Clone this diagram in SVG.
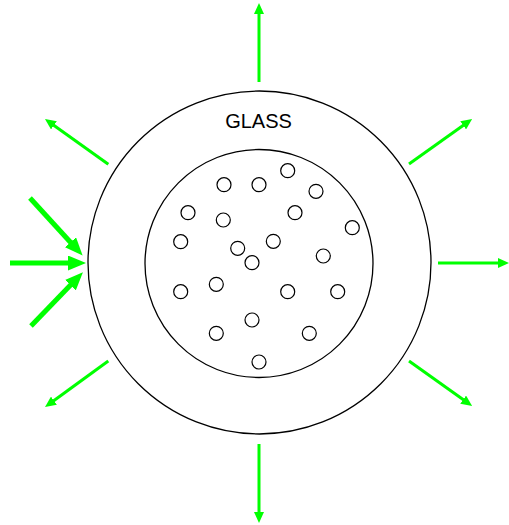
<svg xmlns="http://www.w3.org/2000/svg" width="509" height="525" viewBox="0 0 509 525">
<style>
.ring{fill:none;stroke:#000;stroke-width:1.3}
.bub{fill:#fff;stroke:#000;stroke-width:1.2}
.out{stroke:#00ff00;stroke-width:3;fill:none;marker-end:url(#hs)}
.in{stroke:#00ff00;stroke-width:5;fill:none;marker-end:url(#hl)}
.lbl{font-family:"Liberation Sans",Arial,sans-serif;font-size:20px;fill:#000;text-anchor:middle}
</style>
<defs>
<marker id="hs" markerUnits="userSpaceOnUse" viewBox="0 0 11 10" refX="2" refY="5" markerWidth="11" markerHeight="10" orient="auto">
<path d="M0,0 L11,5 L0,10 z" fill="#00ff00"/>
</marker>
<marker id="hl" markerUnits="userSpaceOnUse" viewBox="0 0 18 15" refX="3" refY="7.5" markerWidth="18" markerHeight="15" orient="auto">
<path d="M0,0 L18,7.5 L0,15 z" fill="#00ff00"/>
</marker>
</defs>
<rect width="509" height="525" fill="#fff"/>
<g id="glass">
<circle class="ring" cx="259.5" cy="262.5" r="171.5"/>
<text class="lbl" x="258.5" y="128">GLASS</text>
</g>
<g id="core">
<circle class="ring" cx="259" cy="263.5" r="114"/>
</g>
<g id="bubbles">
<circle class="bub" cx="287.7" cy="170.7" r="7"/>
<circle class="bub" cx="224" cy="184.7" r="7"/>
<circle class="bub" cx="259" cy="184.7" r="7"/>
<circle class="bub" cx="316" cy="191.3" r="7"/>
<circle class="bub" cx="188" cy="212.7" r="7"/>
<circle class="bub" cx="223.3" cy="220" r="7"/>
<circle class="bub" cx="295" cy="212.7" r="7"/>
<circle class="bub" cx="352.3" cy="227.7" r="7"/>
<circle class="bub" cx="180.7" cy="241.7" r="7"/>
<circle class="bub" cx="237.7" cy="248.3" r="7"/>
<circle class="bub" cx="273.3" cy="241.3" r="7"/>
<circle class="bub" cx="252" cy="262.7" r="7"/>
<circle class="bub" cx="323.3" cy="256" r="7"/>
<circle class="bub" cx="216.3" cy="284.3" r="7"/>
<circle class="bub" cx="180.7" cy="291.7" r="7"/>
<circle class="bub" cx="287.7" cy="291.7" r="7"/>
<circle class="bub" cx="337.7" cy="291.7" r="7"/>
<circle class="bub" cx="252" cy="320" r="7"/>
<circle class="bub" cx="216.3" cy="333.3" r="7"/>
<circle class="bub" cx="309.3" cy="333.3" r="7"/>
<circle class="bub" cx="259" cy="362" r="7"/>
</g>
<g id="connectors">
<line class="out" x1="259" y1="82" x2="259" y2="12"/>
<line class="out" x1="259" y1="444" x2="259" y2="514"/>
<line class="out" x1="438" y1="263" x2="500" y2="263"/>
<line class="out" x1="409" y1="164" x2="464.8" y2="124.2"/>
<line class="out" x1="409" y1="361" x2="464.8" y2="400.8"/>
<line class="out" x1="108.3" y1="164.3" x2="52.3" y2="124.2"/>
<line class="out" x1="108.3" y1="361" x2="52.3" y2="401.8"/>
<line class="in" x1="10" y1="263" x2="71" y2="263"/>
<line class="in" x1="30" y1="198" x2="72.5" y2="244.5"/>
<line class="in" x1="31" y1="326" x2="72.5" y2="283"/>
</g>
</svg>
